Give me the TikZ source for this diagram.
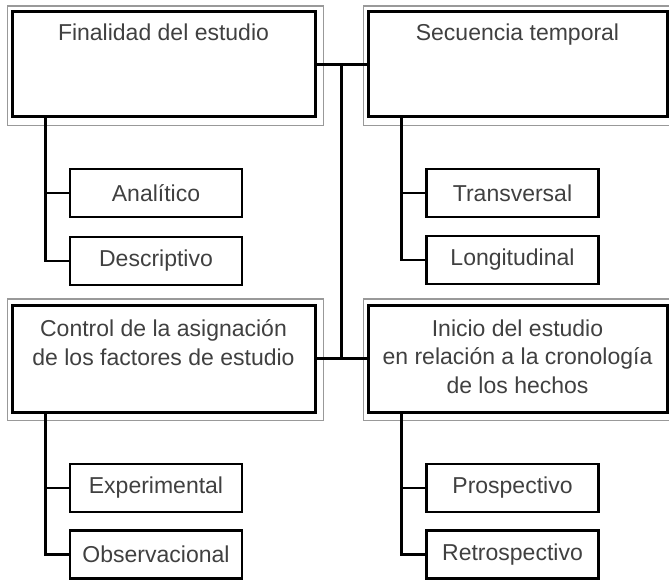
\documentclass[tikz,border=0pt]{standalone}
\usepackage{fontspec}
\setmainfont{Liberation Sans}
\usetikzlibrary{calc}

\tikzset{
  bigbox/.style={draw, line width=3pt, minimum width=303pt, minimum height=105pt, inner sep=0pt},
  smallbox/.style={draw, line width=2.5pt, minimum width=172pt, minimum height=48pt, text=black!75},
  frame/.style={draw=black!40, line width=1.5pt},
  title/.style={anchor=north, align=center, inner sep=0pt, text=black!75},
  link/.style={line width=2.5pt},
}

\begin{document}
\begin{tikzpicture}[x=1pt, y=-1pt, font=\fontsize{23}{28.5}\selectfont]
\useasboundingbox (0,0) rectangle (669,580);

% cajas principales
\node[bigbox] (fin) at (163.5,64.5) {};
\node[bigbox, minimum width=299pt] (sec) at (517.5,64.5) {};
\node[bigbox, minimum height=107pt] (ctl) at (163.5,358.5) {};
\node[bigbox, minimum width=299pt, minimum height=107pt] (ini) at (517.5,358.5) {};
\foreach \b in {fin,sec,ctl,ini}
  \draw[frame] ([shift={(-3,-4.5)}]\b.north west) rectangle ([shift={(7,7)}]\b.south east);

\node[title] (finT) at ([yshift=-13pt]fin.north) {Finalidad del estudio};
\node[title] (secT) at ([yshift=-13pt]sec.north) {Secuencia temporal};
\node[title] (ctlT) at ([yshift=-16pt]ctl.north) {Control de la asignación\\de los factores de estudio};
\node[title] (iniT) at ([yshift=-16pt]ini.north) {Inicio del estudio\\en relación a la cronología\\de los hechos};

% tipos
\node[smallbox] (ana) at (156,193) {Analítico};
\node[smallbox] (des) at (156,261) {Descriptivo};
\node[smallbox] (tra) at (512.5,193) {Transversal};
\node[smallbox] (lon) at (512.5,260) {Longitudinal};
\node[smallbox] (expe) at (156,488) {Experimental};
\node[smallbox] (obs) at (156,554.5) {Observacional};
\node[smallbox] (pro) at (512.5,488) {Prospectivo};
\node[smallbox] (ret) at (512.5,554.5) {Retrospectivo};

\draw[link] (fin.east) -- (sec.west);
\draw[link] (ctl.east) -- (ini.west);
\draw[link] ($(fin.east)!.5!(sec.west)$) -- ($(ctl.east)!.5!(ini.west)$);

\foreach \b/\c/\d in {fin/ana/des, sec/tra/lon, ctl/expe/obs, ini/pro/ret} {
  \coordinate (\b-t) at ([xshift=35pt]\b.south west);
  \draw[link] (\b-t) |- (\c.west);
  \draw[link] (\b-t) |- (\d.west);
}
\end{tikzpicture}
\end{document}
